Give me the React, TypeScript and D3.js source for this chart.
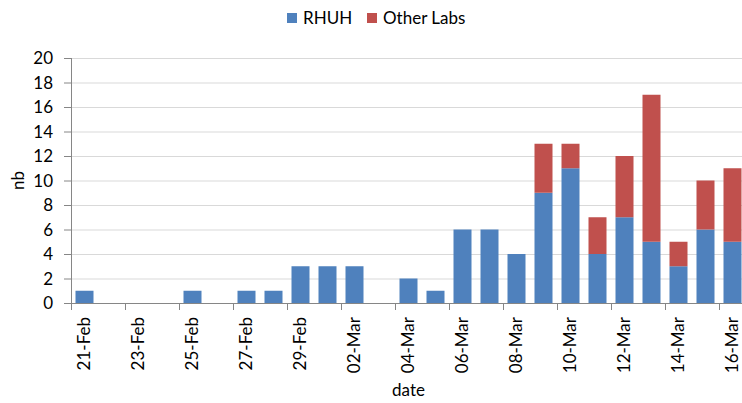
import React, { useEffect, useRef } from "react";
import * as d3 from "d3";

const dates = [
  "21-Feb", "22-Feb", "23-Feb", "24-Feb", "25-Feb", "26-Feb", "27-Feb", "28-Feb", "29-Feb",
  "01-Mar", "02-Mar", "03-Mar", "04-Mar", "05-Mar", "06-Mar", "07-Mar", "08-Mar", "09-Mar",
  "10-Mar", "11-Mar", "12-Mar", "13-Mar", "14-Mar", "15-Mar", "16-Mar",
];
const rhuh = [1, 0, 0, 0, 1, 0, 1, 1, 3, 3, 3, 0, 2, 1, 6, 6, 4, 9, 11, 4, 7, 5, 3, 6, 5];
const otherLabs = [0, 0, 0, 0, 0, 0, 0, 0, 0, 0, 0, 0, 0, 0, 0, 0, 0, 4, 2, 3, 5, 12, 2, 4, 6];
const seriesNames = ["RHUH", "Other Labs"];
const colors = ["#4f81bd", "#c0504d"];
const yTicks = [0, 2, 4, 6, 8, 10, 12, 14, 16, 18, 20];

const App = () => {
  const ref = useRef<SVGSVGElement>(null);

  useEffect(() => {
    const width = 742;
    const height = 403;
    const left = 71;
    const right = 746;
    const top = 58;
    const bottom = 303;
    const font = "Lato, 'Open Sans', sans-serif";
    const fs = 17;

    const svg = d3.select(ref.current);
    svg.selectAll("*").remove();
    svg.attr("width", width).attr("height", height);

    const rows = dates.map((d, i) => ({ date: d, RHUH: rhuh[i], "Other Labs": otherLabs[i] }));
    const stacked = d3.stack<any>().keys(seriesNames)(rows);

    const x = d3.scaleBand().domain(dates).range([left, right]).paddingInner(1 / 3).paddingOuter(1 / 6);
    const y = d3.scaleLinear().domain([0, 20]).range([bottom, top]);
    const step = x.step();

    // gridlines
    svg.append("g")
      .selectAll("line")
      .data(yTicks.filter((t) => t > 0))
      .join("line")
      .attr("x1", left)
      .attr("x2", right)
      .attr("y1", (d) => y(d) + 0.5)
      .attr("y2", (d) => y(d) + 0.5)
      .attr("stroke", "#d9d9d9")
      .attr("stroke-width", 1);

    // bars
    svg.append("g")
      .selectAll("g")
      .data(stacked)
      .join("g")
      .attr("fill", (_, i) => colors[i])
      .selectAll("rect")
      .data((s) => s)
      .join("rect")
      .attr("x", (d: any) => x(d.data.date)!)
      .attr("width", x.bandwidth())
      .attr("y", (d) => y(d[1]))
      .attr("height", (d) => y(d[0]) - y(d[1]));

    // y axis
    const yAxis = svg.append("g");
    yAxis.append("line")
      .attr("x1", left + 0.5).attr("x2", left + 0.5)
      .attr("y1", top).attr("y2", bottom)
      .attr("stroke", "#868686");
    yAxis.selectAll("line.tick")
      .data(yTicks)
      .join("line")
      .attr("class", "tick")
      .attr("x1", left - 7).attr("x2", left)
      .attr("y1", (d) => y(d) + 0.5).attr("y2", (d) => y(d) + 0.5)
      .attr("stroke", "#868686");
    yAxis.selectAll("text")
      .data(yTicks)
      .join("text")
      .attr("x", 53)
      .attr("y", (d) => y(d))
      .attr("dy", "0.36em")
      .attr("text-anchor", "end")
      .attr("font-family", font)
      .attr("font-size", fs)
      .attr("fill", "#000")
      .text((d) => d);

    // x axis
    const xAxis = svg.append("g");
    xAxis.append("line")
      .attr("x1", left).attr("x2", right)
      .attr("y1", bottom + 0.5).attr("y2", bottom + 0.5)
      .attr("stroke", "#868686");
    const tickIdx = dates.map((_, i) => i).filter((i) => i % 2 === 0);
    xAxis.selectAll("line.tick")
      .data(tickIdx)
      .join("line")
      .attr("class", "tick")
      .attr("x1", (i) => left + i * step + 0.5)
      .attr("x2", (i) => left + i * step + 0.5)
      .attr("y1", bottom).attr("y2", bottom + 7)
      .attr("stroke", "#868686");
    xAxis.selectAll("text")
      .data(tickIdx)
      .join("text")
      .attr("transform", (i) => `translate(${x(dates[i])! + x.bandwidth() / 2},${bottom + 14}) rotate(-90)`)
      .attr("dy", "0.35em")
      .attr("text-anchor", "end")
      .attr("font-family", font)
      .attr("font-size", fs)
      .attr("fill", "#000")
      .text((i) => dates[i]);

    // axis titles
    svg.append("text")
      .attr("x", (left + right) / 2)
      .attr("y", 396)
      .attr("text-anchor", "middle")
      .attr("font-family", font)
      .attr("font-size", fs)
      .text("date");
    svg.append("text")
      .attr("transform", `translate(24,${(top + bottom) / 2}) rotate(-90)`)
      .attr("text-anchor", "middle")
      .attr("font-family", font)
      .attr("font-size", fs)
      .text("nb");

    // legend
    const legendX = [287, 367];
    const legend = svg.append("g")
      .selectAll("g")
      .data(seriesNames)
      .join("g")
      .attr("transform", (_, i) => `translate(${legendX[i]},13)`);
    legend.append("rect")
      .attr("width", 10)
      .attr("height", 10)
      .attr("fill", (_, i) => colors[i]);
    legend.append("text")
      .attr("x", 16)
      .attr("y", 11)
      .attr("font-family", font)
      .attr("font-size", fs)
      .text((d) => d);
  }, []);

  return <svg ref={ref} style={{ position: "absolute", left: 0, top: 0 }} />;
};

export default App;
